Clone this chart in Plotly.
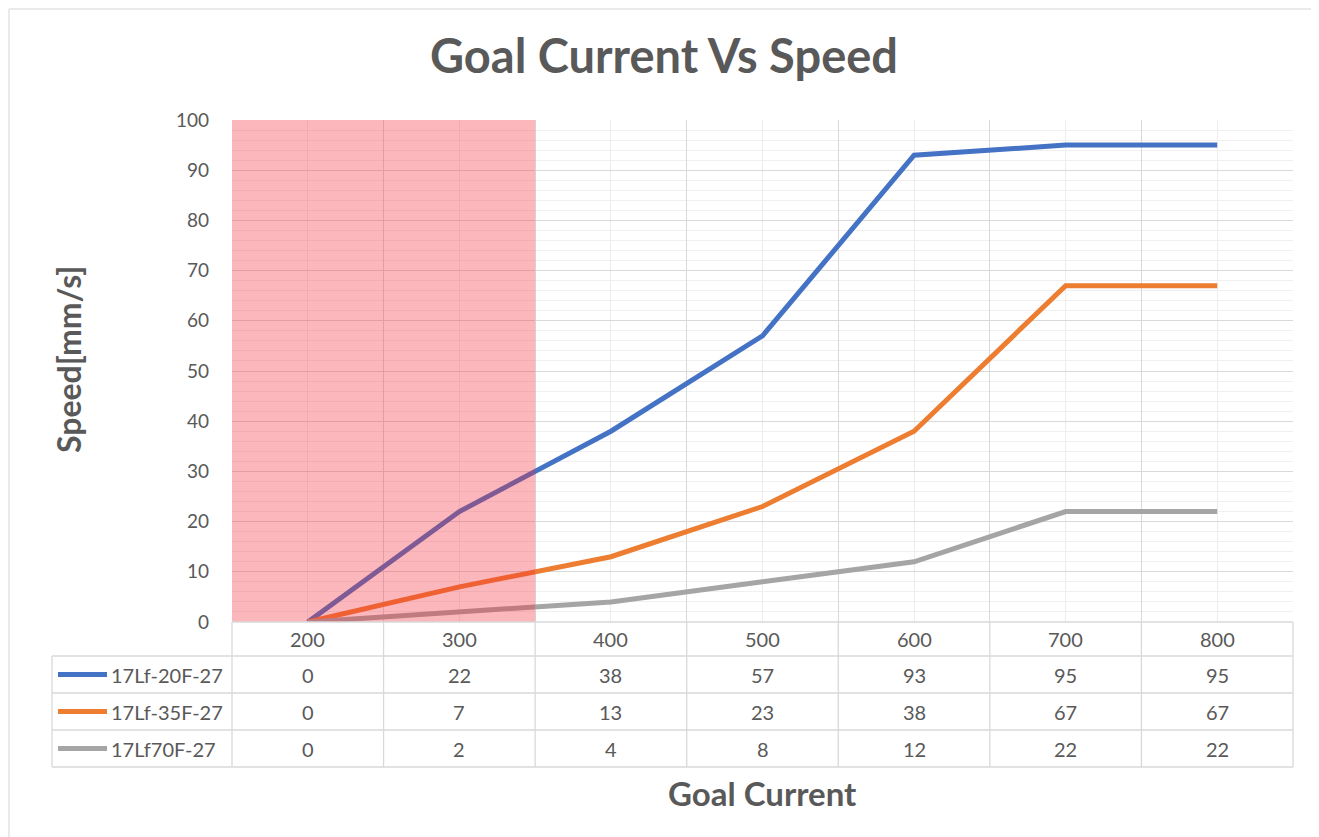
import plotly.graph_objects as go

# ---------------- data ----------------
categories = [200, 300, 400, 500, 600, 700, 800]
series_names = ["17Lf-20F-27", "17Lf-35F-27", "17Lf70F-27"]
speed_20F = [0, 22, 38, 57, 93, 95, 95]
speed_35F = [0, 7, 13, 23, 38, 67, 67]
speed_70F = [0, 2, 4, 8, 12, 22, 22]
series_values = [speed_20F, speed_35F, speed_70F]
series_colors = ["#4472C4", "#ED7D31", "#A5A5A5"]
highlight_range = [150, 350]   # shaded region on the category axis
y_range = [0, 100]

title_text = "Goal Current Vs Speed"
x_title = "Goal Current"
y_title = "Speed[mm/s]"

# ---------------- layout constants (page pixels) ----------------
OFF = 8                      # page body margin
W, H = 1319 - OFF, 837 - OFF
plot_left, plot_right = 232, 1293
plot_top, plot_bottom = 120, 622
table_rows_px = [622, 656, 693, 730, 767]  # row boundaries (header + 3 rows)
table_left_px = 52

L = plot_left - OFF
R = W - (plot_right - OFF)
T = plot_top - OFF
B = H - (table_rows_px[-1] - OFF)
plot_w = W - L - R
plot_h = H - T - B

def py(px):  # page pixel y -> paper y
    return (table_rows_px[-1] - px) / plot_h

def pxx(px):  # page pixel x -> paper x
    return (px - plot_left) / plot_w

FONT = "Lato"
TXT = "#595959"
GRID = "#D9D9D9"

fig = go.Figure()

half = (categories[1] - categories[0]) / 2
xmin, xmax = categories[0] - half, categories[-1] + half

for name, vals, col in zip(series_names, series_values, series_colors):
    fig.add_trace(go.Scatter(
        x=categories, y=vals, name=name, mode="lines",
        line=dict(color=col, width=5), showlegend=False,
        hoverinfo="x+y+name"))

shapes = []
annotations = []

# red highlighted region, above traces
shapes.append(dict(type="rect", xref="x", yref="y",
                   x0=highlight_range[0], x1=highlight_range[1],
                   y0=y_range[0], y1=y_range[1],
                   fillcolor="rgba(242,45,55,0.34)", line=dict(width=0),
                   layer="above"))

# ---------------- data table ----------------
ytop = py(table_rows_px[0])
ybot = py(table_rows_px[-1])
for i, rpx in enumerate(table_rows_px):
    x0 = 0 if i == 0 else pxx(table_left_px)
    shapes.append(dict(type="line", xref="paper", yref="paper",
                       x0=x0, x1=1, y0=py(rpx), y1=py(rpx),
                       line=dict(color=GRID, width=1.3)))
for k in range(1, len(categories)):
    xb = (categories[k - 1] + categories[k]) / 2
    shapes.append(dict(type="line", xref="x", yref="paper",
                       x0=xb, x1=xb, y0=ybot, y1=ytop,
                       line=dict(color=GRID, width=1.3)))
for xd in (0, 1):
    shapes.append(dict(type="line", xref="x domain", yref="paper",
                       x0=xd, x1=xd, y0=ybot, y1=ytop,
                       line=dict(color=GRID, width=1.3)))
shapes.append(dict(type="line", xref="paper", yref="paper",
                   x0=pxx(table_left_px), x1=pxx(table_left_px),
                   y0=ybot, y1=py(table_rows_px[1]),
                   line=dict(color=GRID, width=1.3)))

cell_font = dict(family=FONT, size=20, color=TXT)
hy = py((table_rows_px[0] + table_rows_px[1]) / 2)
for c in categories:
    annotations.append(dict(x=c, y=hy, xref="x", yref="paper", text=str(c),
                            xanchor="center", yanchor="middle",
                            showarrow=False, font=cell_font))
for r, (name, vals, col) in enumerate(zip(series_names, series_values, series_colors)):
    cy = py((table_rows_px[r + 1] + table_rows_px[r + 2]) / 2)
    for c, v in zip(categories, vals):
        annotations.append(dict(x=c, y=cy, xref="x", yref="paper", text=str(v),
                                xanchor="center", yanchor="middle",
                                showarrow=False, font=cell_font))
    shapes.append(dict(type="line", xref="paper", yref="paper",
                       x0=pxx(58), x1=pxx(107), y0=cy, y1=cy,
                       line=dict(color=col, width=5)))
    annotations.append(dict(x=pxx(109), y=cy, xref="paper", yref="paper", text=name,
                            xanchor="left", yanchor="middle", showarrow=False,
                            font=cell_font))

# axis titles
annotations.append(dict(x=0.5, y=py(793), xref="paper", yref="paper", text=f"<b>{x_title}</b>",
                        xanchor="center", yanchor="middle",
                        showarrow=False, font=dict(family=FONT, size=33, color=TXT)))
annotations.append(dict(x=pxx(68), y=py(360), xref="paper", yref="paper", text=f"<b>{y_title}</b>",
                        xanchor="center", yanchor="middle",
                        textangle=-90, showarrow=False, font=dict(family=FONT, size=32, color=TXT)))

# outer frame lines (top and left)
shapes.append(dict(type="line", xref="paper", yref="paper", x0=pxx(9), x1=pxx(1319), y0=py(9), y1=py(9),
                   line=dict(color="#E3E3E3", width=1.5)))
shapes.append(dict(type="line", xref="paper", yref="paper", x0=pxx(9), x1=pxx(9), y0=py(9), y1=py(837),
                   line=dict(color="#E3E3E3", width=1.5)))

fig.update_layout(
    width=W, height=H,
    margin=dict(l=L, r=R, t=T, b=B),
    paper_bgcolor="white", plot_bgcolor="white",
    title=dict(text=f"<b>{title_text}</b>", x=(664 - OFF) / W, xref="container", xanchor="center",
               y=1 - (57 - OFF) / H, yanchor="middle", font=dict(family=FONT, size=47, color=TXT)),
    xaxis=dict(range=[xmin, xmax], tickmode="linear", tick0=xmin, dtick=categories[1] - categories[0],
               showticklabels=False, showgrid=True, gridcolor=GRID, gridwidth=1.3,
               zeroline=False, showline=False,
               minor=dict(tickmode="linear", tick0=categories[0], dtick=categories[1] - categories[0],
                          showgrid=True, gridcolor="#EDEDED", gridwidth=1)),
    yaxis=dict(range=y_range, domain=[py(plot_bottom), 1], tickmode="linear", tick0=0, dtick=10,
               showgrid=True, gridcolor=GRID, gridwidth=1.3, zeroline=False, showline=False,
               tickfont=dict(family=FONT, size=19, color=TXT), ticklabelstandoff=22,
               minor=dict(tickmode="linear", tick0=0, dtick=2, showgrid=True,
                          gridcolor="#F0F0F0", gridwidth=1)),
    shapes=shapes, annotations=annotations,
    font=dict(family=FONT, color=TXT),
)

fig.write_html("out.html")
